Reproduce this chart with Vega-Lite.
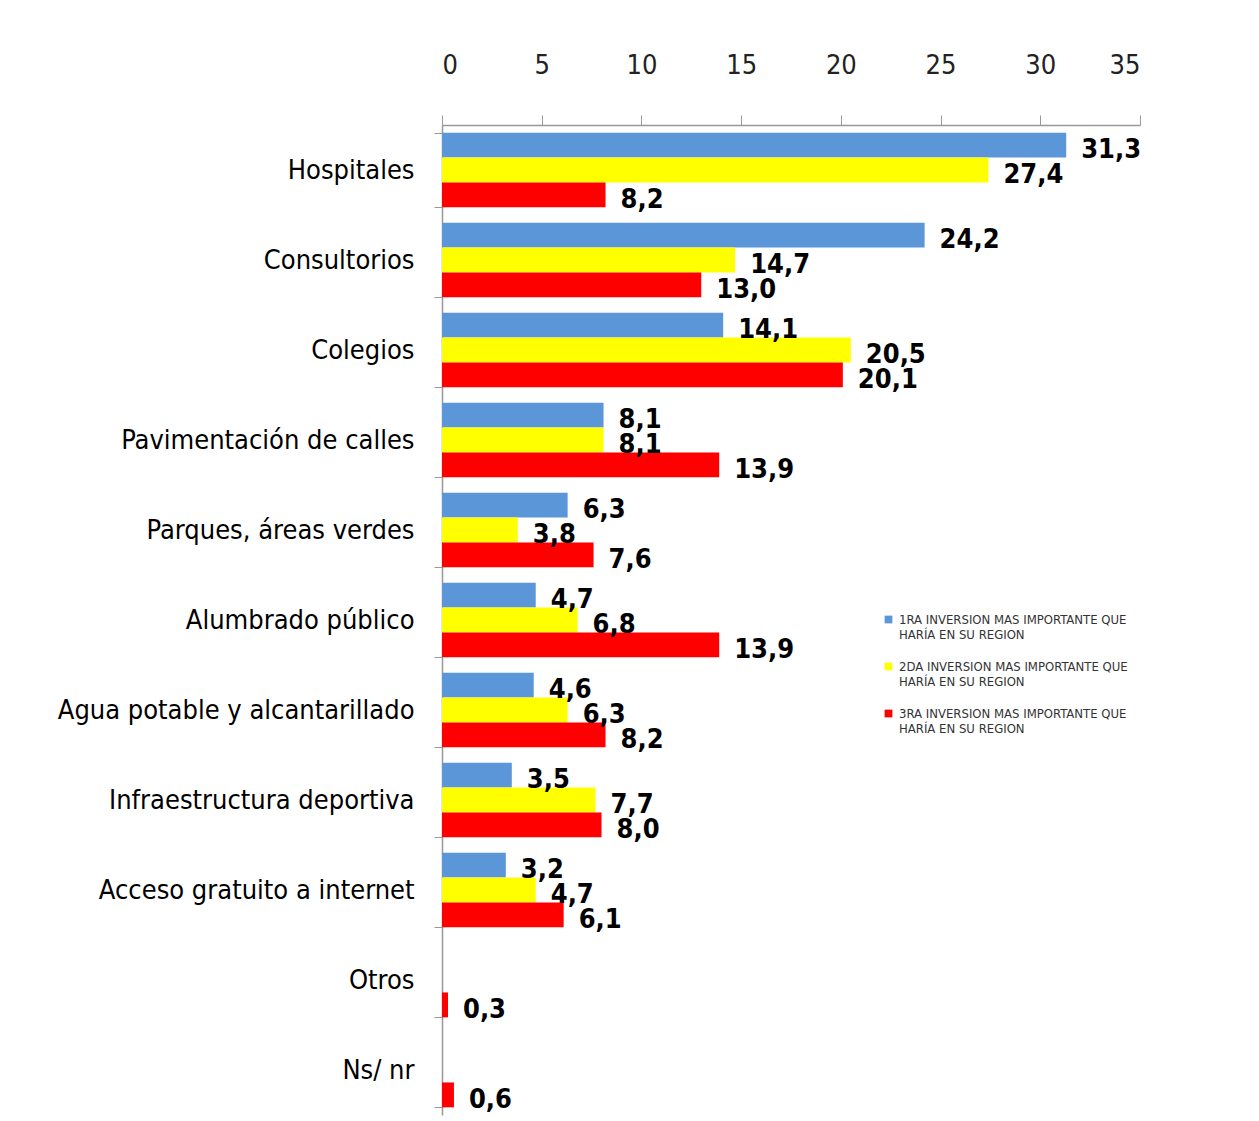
{
  "$schema": "https://vega.github.io/schema/vega-lite/v6.json",
  "width": 698,
  "height": 990,
  "autosize": {"type": "none"},
  "padding": {"left": 442, "top": 125, "right": 119, "bottom": 6},
  "background": "white",
  "config": {
    "locale": {"number": {"decimal": ",", "thousands": ".", "grouping": [3], "currency": ["", " €"]}},
    "view": {"stroke": null},
    "font": "Liberation Sans Narrow, DejaVu Sans Condensed, sans-serif"
  },
  "data": {
    "values": [
      {"categoria": "Hospitales", "serie": "1RA INVERSION MAS IMPORTANTE QUE HARÍA EN SU REGION", "valor": 31.3},
      {"categoria": "Hospitales", "serie": "2DA INVERSION MAS IMPORTANTE QUE HARÍA EN SU REGION", "valor": 27.4},
      {"categoria": "Hospitales", "serie": "3RA INVERSION MAS IMPORTANTE QUE HARÍA EN SU REGION", "valor": 8.2},
      {"categoria": "Consultorios", "serie": "1RA INVERSION MAS IMPORTANTE QUE HARÍA EN SU REGION", "valor": 24.2},
      {"categoria": "Consultorios", "serie": "2DA INVERSION MAS IMPORTANTE QUE HARÍA EN SU REGION", "valor": 14.7},
      {"categoria": "Consultorios", "serie": "3RA INVERSION MAS IMPORTANTE QUE HARÍA EN SU REGION", "valor": 13.0},
      {"categoria": "Colegios", "serie": "1RA INVERSION MAS IMPORTANTE QUE HARÍA EN SU REGION", "valor": 14.1},
      {"categoria": "Colegios", "serie": "2DA INVERSION MAS IMPORTANTE QUE HARÍA EN SU REGION", "valor": 20.5},
      {"categoria": "Colegios", "serie": "3RA INVERSION MAS IMPORTANTE QUE HARÍA EN SU REGION", "valor": 20.1},
      {"categoria": "Pavimentación de calles", "serie": "1RA INVERSION MAS IMPORTANTE QUE HARÍA EN SU REGION", "valor": 8.1},
      {"categoria": "Pavimentación de calles", "serie": "2DA INVERSION MAS IMPORTANTE QUE HARÍA EN SU REGION", "valor": 8.1},
      {"categoria": "Pavimentación de calles", "serie": "3RA INVERSION MAS IMPORTANTE QUE HARÍA EN SU REGION", "valor": 13.9},
      {"categoria": "Parques, áreas verdes", "serie": "1RA INVERSION MAS IMPORTANTE QUE HARÍA EN SU REGION", "valor": 6.3},
      {"categoria": "Parques, áreas verdes", "serie": "2DA INVERSION MAS IMPORTANTE QUE HARÍA EN SU REGION", "valor": 3.8},
      {"categoria": "Parques, áreas verdes", "serie": "3RA INVERSION MAS IMPORTANTE QUE HARÍA EN SU REGION", "valor": 7.6},
      {"categoria": "Alumbrado público", "serie": "1RA INVERSION MAS IMPORTANTE QUE HARÍA EN SU REGION", "valor": 4.7},
      {"categoria": "Alumbrado público", "serie": "2DA INVERSION MAS IMPORTANTE QUE HARÍA EN SU REGION", "valor": 6.8},
      {"categoria": "Alumbrado público", "serie": "3RA INVERSION MAS IMPORTANTE QUE HARÍA EN SU REGION", "valor": 13.9},
      {"categoria": "Agua potable y alcantarillado", "serie": "1RA INVERSION MAS IMPORTANTE QUE HARÍA EN SU REGION", "valor": 4.6},
      {"categoria": "Agua potable y alcantarillado", "serie": "2DA INVERSION MAS IMPORTANTE QUE HARÍA EN SU REGION", "valor": 6.3},
      {"categoria": "Agua potable y alcantarillado", "serie": "3RA INVERSION MAS IMPORTANTE QUE HARÍA EN SU REGION", "valor": 8.2},
      {"categoria": "Infraestructura deportiva", "serie": "1RA INVERSION MAS IMPORTANTE QUE HARÍA EN SU REGION", "valor": 3.5},
      {"categoria": "Infraestructura deportiva", "serie": "2DA INVERSION MAS IMPORTANTE QUE HARÍA EN SU REGION", "valor": 7.7},
      {"categoria": "Infraestructura deportiva", "serie": "3RA INVERSION MAS IMPORTANTE QUE HARÍA EN SU REGION", "valor": 8.0},
      {"categoria": "Acceso gratuito a internet", "serie": "1RA INVERSION MAS IMPORTANTE QUE HARÍA EN SU REGION", "valor": 3.2},
      {"categoria": "Acceso gratuito a internet", "serie": "2DA INVERSION MAS IMPORTANTE QUE HARÍA EN SU REGION", "valor": 4.7},
      {"categoria": "Acceso gratuito a internet", "serie": "3RA INVERSION MAS IMPORTANTE QUE HARÍA EN SU REGION", "valor": 6.1},
      {"categoria": "Otros", "serie": "3RA INVERSION MAS IMPORTANTE QUE HARÍA EN SU REGION", "valor": 0.3},
      {"categoria": "Ns/ nr", "serie": "3RA INVERSION MAS IMPORTANTE QUE HARÍA EN SU REGION", "valor": 0.6}
    ]
  },
  "encoding": {
    "y": {
      "field": "categoria",
      "type": "nominal",
      "sort": null,
      "title": null,
      "scale": {"paddingInner": 0.17, "paddingOuter": 0.085},
      "axis": {
        "orient": "left",
        "domainColor": "#999999",
        "domainWidth": 1.5,
        "tickColor": "#999999",
        "tickBand": "extent",
        "tickSize": 8,
        "labelFontSize": 27,
        "labelColor": "#000000",
        "labelPadding": 20,
        "labelLimit": 420
      }
    },
    "yOffset": {"field": "serie", "type": "nominal", "sort": null},
    "x": {
      "field": "valor",
      "type": "quantitative",
      "title": null,
      "scale": {"domain": [0, 35], "nice": false},
      "axis": {
        "orient": "top",
        "values": [0, 5, 10, 15, 20, 25, 30, 35],
        "grid": false,
        "domainColor": "#999999",
        "domainWidth": 1.5,
        "tickColor": "#999999",
        "tickSize": 10,
        "labelFontSize": 27,
        "labelColor": "#222222",
        "labelPadding": 36
      }
    }
  },
  "layer": [
    {
      "mark": {"type": "bar"},
      "encoding": {
        "color": {
          "field": "serie",
          "type": "nominal",
          "sort": null,
          "scale": {"range": ["#5B97D8", "#FFFF00", "#FF0000"]},
          "legend": {
            "title": null,
            "orient": "none",
            "legendX": 440,
            "legendY": 488,
            "symbolType": "square",
            "symbolSize": 60,
            "symbolStrokeWidth": 0,
            "labelFontSize": 13,
            "labelColor": "#333333",
            "labelLimit": 400,
            "labelExpr": "[substring(datum.label, 0, 32), substring(datum.label, 33)]",
            "rowPadding": 18,
            "labelOffset": 4
          }
        }
      }
    },
    {
      "mark": {"type": "text", "align": "left", "dx": 15, "dy": 5, "fontSize": 27, "fontWeight": "bold", "color": "#000000"},
      "encoding": {
        "text": {"field": "valor", "type": "quantitative", "format": ".1f"}
      }
    }
  ]
}
